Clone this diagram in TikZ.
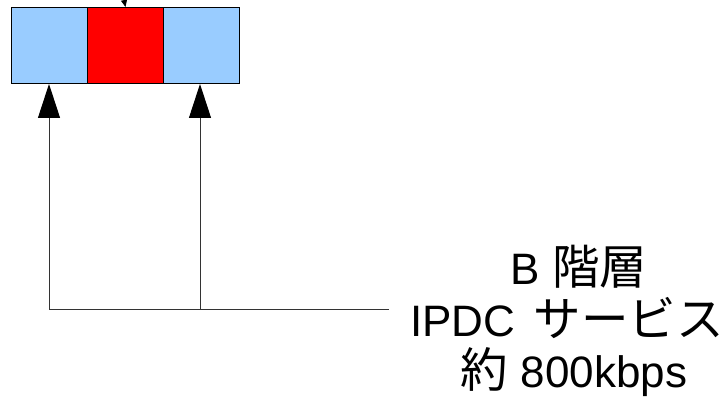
\documentclass[tikz,border=0pt]{standalone}
\usepackage{fontspec}
\setmainfont{Liberation Sans}
\newfontfamily\cjk[Scale=1.08]{Noto Sans CJK JP}
\usetikzlibrary{arrows.meta}
\definecolor{cellblue}{HTML}{99CCFF}
\definecolor{cellred}{HTML}{FF0000}
\begin{document}
\begin{tikzpicture}[x=1pt,y=-1pt,
  cell/.style={draw=black,line width=1pt,minimum width=76pt,minimum height=76pt,inner sep=0pt,anchor=north west},
  feed/.style={draw=black!80,line width=1pt},
  bigtip/.style={-{Triangle[width=22pt,length=34pt,black]}},
  smalltip/.style={-{Triangle[width=6pt,length=7pt,black]}},
  caption/.style={align=center,font=\fontsize{44}{51.5}\selectfont,inner sep=0pt}]
  \useasboundingbox (0,0) rectangle (726,403);
  % the three cells of the frame
  \node[cell,fill=cellblue] (c1) at (11,7) {};
  \node[cell,fill=cellred]  (c2) at (87,7) {};
  \node[cell,fill=cellblue] (c3) at (163,7) {};
  % incoming stream from above
  \coordinate (top) at (124,0);
  \draw[feed,smalltip] (top) -- (c2.north);
  % service label
  \node[caption] (svc) at (567,321) {\hspace{24pt}B {\cjk 階層}\\IPDC\hspace{6pt} {\cjk サービス}\\\hspace{14pt}{\cjk 約} 800kbps};
  % feeder lines into the blue cells
  \coordinate (end) at (389,310);
  \coordinate (j1) at (49,310);
  \coordinate (j2) at (200,310);
  \draw[feed] (end) -- (j1);
  \draw[feed,bigtip] (j1) -- (j1 |- c1.south);
  \draw[feed,bigtip] (j2) -- (j2 |- c3.south);
\end{tikzpicture}
\end{document}
